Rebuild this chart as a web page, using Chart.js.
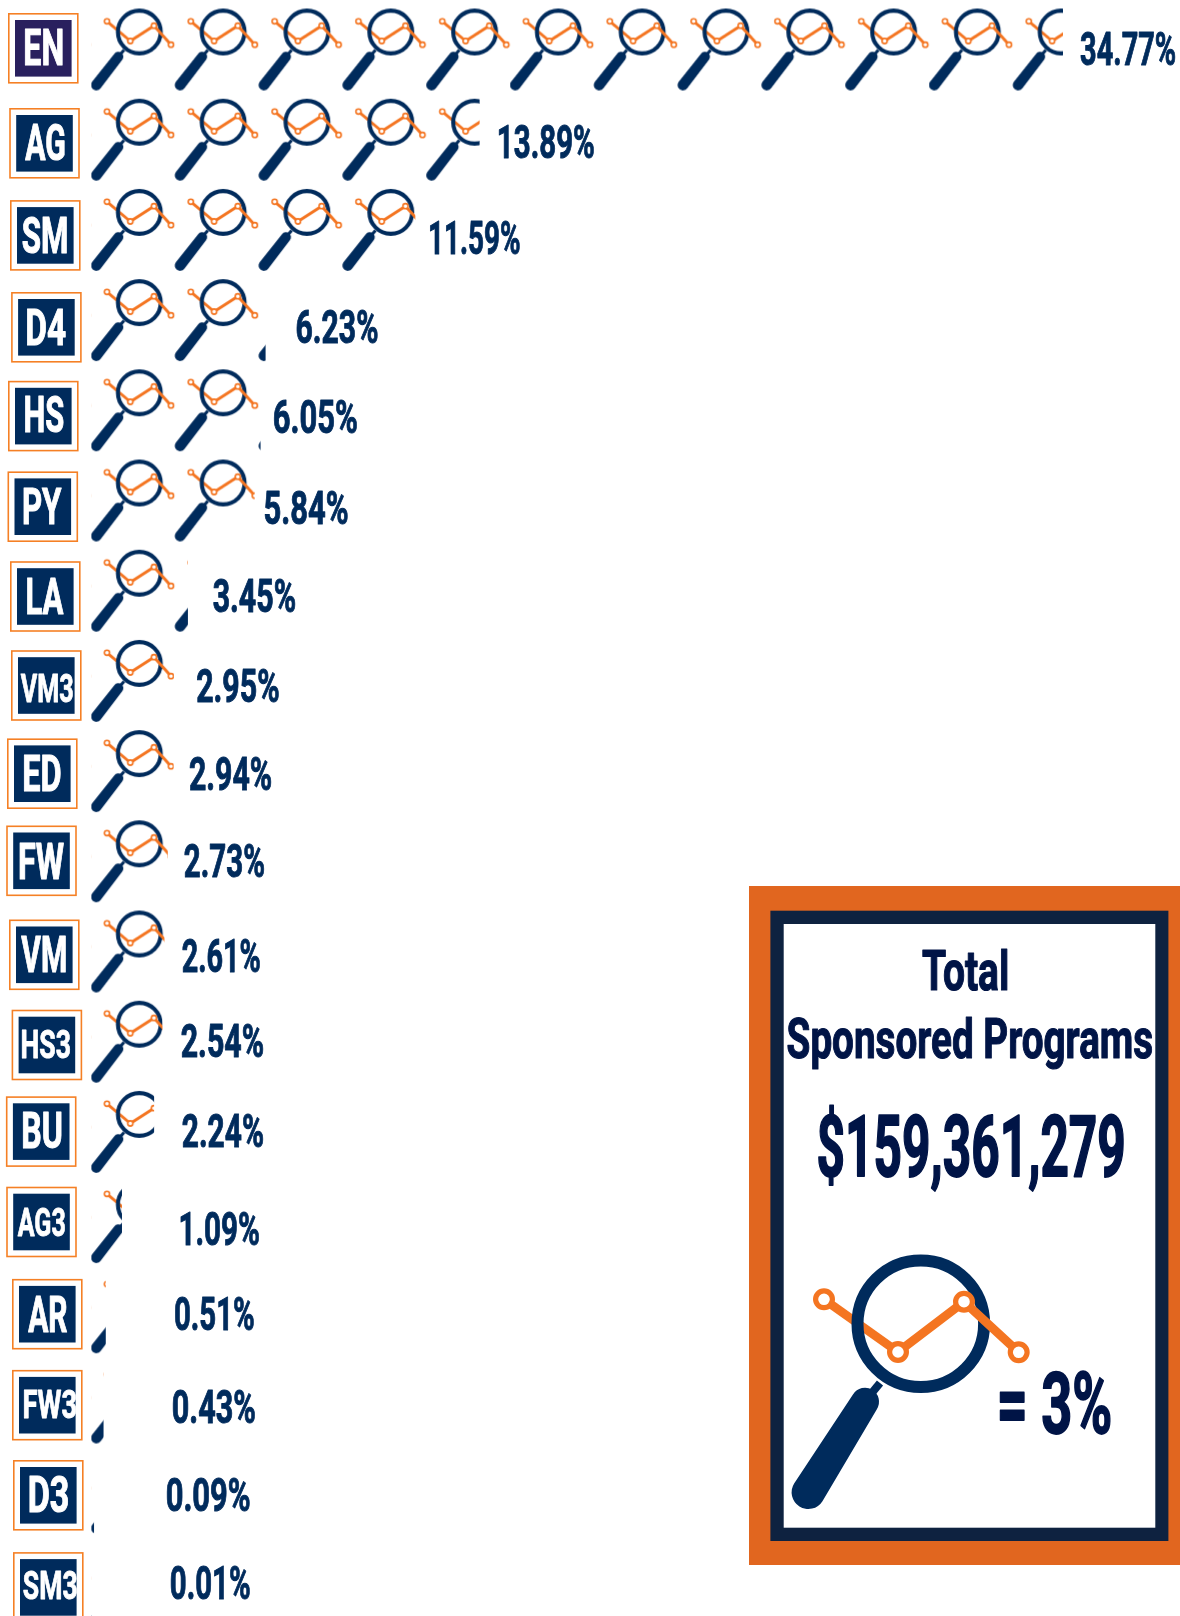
<!DOCTYPE html>
<html><head><meta charset="utf-8"><title>Total Sponsored Programs</title>
<style>html,body{margin:0;padding:0;background:#fff;overflow:hidden;width:1180px;height:1616px}#w{width:1180px;height:1616px;overflow:hidden}canvas{display:block}</style>
<script src="https://cdn.jsdelivr.net/npm/chart.js@4/dist/chart.umd.min.js"></script>
</head><body><div id="w"><canvas id="c" width="1180" height="1628"></canvas></div>
<script>
// ---- data ----
const categories = ['EN','AG','SM','D4','HS','PY','LA','VM3','ED','FW','VM','HS3','BU','AG3','AR','FW3','D3','SM3'];
const shares = [34.77,13.89,11.59,6.23,6.05,5.84,3.45,2.95,2.94,2.73,2.61,2.54,2.24,1.09,0.51,0.43,0.09,0.01];
const panelTitle = ['Total','Sponsored Programs'];
const panelTotal = '$159,361,279';
const panelKey = '= 3%';

// ---- layout (not data) ----
const badgeX = [43.3,44.5,45.3,46.4,43.3,42.8,45.3,46.3,42.3,41.5,44.3,46.9,41.2,41.5,47.3,47.3,48.3,48.3];
const badgeDy = [-1.2,3.6,5.5,7.2,5.8,6.2,5.8,4.6,2.6,-.5,3.3,3.3,-.3,-.1,1.9,2.7,2.6,4.5];
const badgeTextW = [37,39,44,38,38,38,36,52,36,44,44,48,38,47,39,52,38,53];
const badgeTextDx = [.5,.2,-.8,0,1,0,0,.4,0,.5,-1,-1,1,-.3,.4,2.7,.5,1.7];
const badgeTextDy = [-1,-.8,-.3,0,-2,0,0,1.8,0,0,-1,-1.5,-1,-.5,.5,-1.5,-1,-2.3];
const labelLeft = [1080.7,498.8,429.8,296.8,274.1,264.9,213.3,196.8,189.6,184.5,182.4,181.4,182.4,180.4,175.2,173.1,167,171.1];
const labelRight = [1175,593.6,519.4,377.2,356.6,347.3,294.8,278.3,271,263.8,259.7,262.8,262.8,258.7,253.5,254.6,249.4,249.4];
const labelDy = [-1.2,1.6,7.3,6.7,6.3,6.9,4.3,4.8,2.3,-1.3,4.4,-1.2,-1.7,6.5,1.4,4,1.5,0];

const FONT = '"Liberation Sans Narrow","Roboto",sans-serif';
const NAVY = '#002b5c', ORANGE = '#f47521', INK = '#001446';
const UNIT = 27.94, X0 = 91.2, BAR = 84, PITCH = UNIT * 3;

const SMALL = {r:21.4,w:4.1,line:2.9,mr:2.6,mw:1.6,
  pts:[[-32.3,-10.7],[-9,9],[14.7,-6.3],[31.7,12.7]],
  neck:[[-15.3,18],[-20,23.5],3],handle:[[-43,53],[-21,24.7],5.4,5]};
const BIG = {r:63.3,w:12,line:8.8,mr:8.4,mw:5.2,
  pts:[[-96.8,-24.5],[-22.8,28.2],[43.2,-22.1],[97.9,28.5]],
  neck:[[-40.8,59.2],[-49,69.2],8],handle:[[-112.5,168.5],[-55.8,77.9],16.7,14]};

function seg(g,a,b,ra,rb){
  const dx=b[0]-a[0],dy=b[1]-a[1],t=Math.atan2(dy,dx);
  g.beginPath();g.arc(a[0],a[1],ra,t+Math.PI/2,t-Math.PI/2);g.arc(b[0],b[1],rb,t-Math.PI/2,t+Math.PI/2);g.closePath();g.fill();
}
function drawIcon(g,cx,cy,m){
  const P=m.pts;
  g.save();g.translate(cx,cy);
  // first segment runs under the ring, the others over it
  g.strokeStyle=ORANGE;g.lineWidth=m.line;g.lineJoin='round';
  g.beginPath();g.moveTo(P[0][0],P[0][1]);g.lineTo(P[1][0],P[1][1]);g.stroke();
  g.strokeStyle=NAVY;g.lineWidth=m.w;g.beginPath();g.arc(0,0,m.r,0,Math.PI*2);g.stroke();
  g.strokeStyle=ORANGE;g.lineWidth=m.line;g.beginPath();g.moveTo(P[1][0],P[1][1]);g.lineTo(P[2][0],P[2][1]);g.lineTo(P[3][0],P[3][1]);g.stroke();
  P.forEach(p=>{g.fillStyle='#fff';g.strokeStyle=ORANGE;g.lineWidth=m.mw;g.beginPath();g.arc(p[0],p[1],m.mr,0,Math.PI*2);g.fill();g.stroke();});
  g.strokeStyle=NAVY;g.lineWidth=m.neck[2];g.beginPath();g.moveTo(m.neck[0][0],m.neck[0][1]);g.lineTo(m.neck[1][0],m.neck[1][1]);g.stroke();
  g.fillStyle=NAVY;seg(g,m.handle[0],m.handle[1],m.handle[2],m.handle[3]);
  g.restore();
}
// five icons fit a whole number of pixels, so the fractional icon pitch repeats exactly
const tile=document.createElement('canvas');tile.width=419;tile.height=100;
(function(){const g=tile.getContext('2d');for(let k=0;k<5;k++)drawIcon(g,48.1+k*PITCH,24.5,SMALL);})();

function iconFill(c){
  const ch=c.chart;
  if(!ch.scales.x||c.dataIndex===undefined)return NAVY;
  const p=ch.ctx.createPattern(tile,'repeat');
  const x=ch.scales.x.getPixelForValue(0), y=ch.scales.y.getPixelForValue(c.dataIndex)-BAR/2;
  p.setTransform(new DOMMatrix().translate(x,y));
  return p;
}
function fit(g,text,l,r,cy,cap,color,weight){
  g.save();
  g.font=`${weight||'bold'} 100px ${FONT}`;
  const capR=g.measureText('H').actualBoundingBoxAscent/100, size=cap/capR;
  g.font=`${weight||'bold'} ${size}px ${FONT}`;
  const m=g.measureText(text), ink=m.actualBoundingBoxLeft+m.actualBoundingBoxRight, sx=(r-l)/ink;
  g.translate(l+m.actualBoundingBoxLeft*sx,cy+cap/2);g.scale(sx,1);
  g.textAlign='left';g.textBaseline='alphabetic';g.fillStyle=color;g.strokeStyle=color;g.lineWidth=size*0.022;g.lineJoin='round';
  g.strokeText(text,0,0);g.fillText(text,0,0);
  g.restore();
}
const overlay={id:'overlay',afterDatasetsDraw(ch){
  const g=ch.ctx,y=ch.scales.y;
  categories.forEach((cat,i)=>{
    const cy=y.getPixelForValue(i);
    const bx=badgeX[i],by=cy+badgeDy[i];
    g.strokeStyle='#f58025';g.lineWidth=1.6;g.strokeRect(bx-34.5,by-34.5,69,69);
    g.fillStyle=i===0?'#29205e':NAVY;g.fillRect(bx-28.3,by-28.3,56.6,56.6);
    const long=cat.length>2,tw=badgeTextW[i],tx=bx+badgeTextDx[i];
    fit(g,cat,tx-tw/2,tx+tw/2,by+badgeTextDy[i],long?28.5:35.5,'#fff');
    fit(g,shares[i].toFixed(2)+'%',labelLeft[i],labelRight[i],cy+labelDy[i],33,NAVY);
  });
  // key panel
  g.fillStyle='#e1661f';g.fillRect(749,886,431,679);
  g.fillStyle='#0e2240';g.fillRect(770.4,910.7,398,630.3);
  g.fillStyle='#fff';g.fillRect(783.7,924,371.6,603.7);
  fit(g,panelTitle[0],922.7,1007.3,970,40.5,INK);
  fit(g,panelTitle[1],787.3,1152.3,1038.5,39.5,INK);
  fit(g,panelTotal,818.3,1123.3,1145,62,INK);
  fit(g,panelKey,1000,1110,1402,61,INK);
  drawIcon(g,920.8,1323.8,BIG);
}};
new Chart(document.getElementById('c'),{
  type:'bar',
  data:{labels:categories,datasets:[{data:shares,backgroundColor:iconFill,borderWidth:0,barThickness:BAR}]},
  options:{indexAxis:'y',responsive:false,animation:false,events:[],
    layout:{padding:{left:X0,right:0,top:4.4,bottom:0}},
    plugins:{legend:{display:false},tooltip:{enabled:false},title:{display:false}},
    scales:{
      x:{display:false,min:0,max:(1180-X0)/UNIT,grid:{display:false}},
      y:{display:false,grid:{display:false}}
    }},
  plugins:[overlay]
});
</script></body></html>
